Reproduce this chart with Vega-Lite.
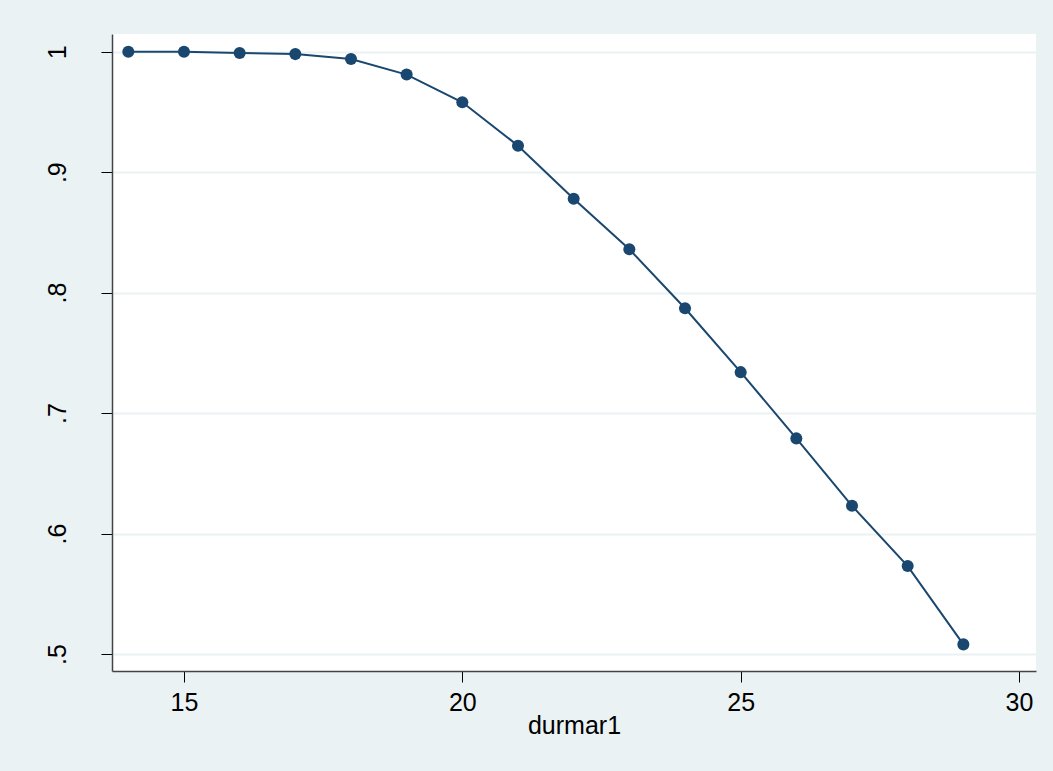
{
  "$schema": "https://vega.github.io/schema/vega-lite/v6.json",
  "width": 924,
  "height": 637,
  "autosize": {"type": "none"},
  "padding": {"left": 112, "top": 34, "right": 17, "bottom": 100},
  "background": "#EAF2F3",
  "config": {
    "view": {"fill": "white", "stroke": null},
    "font": "Liberation Sans"
  },
  "data": {
    "values": [
      {"durmar1": 14, "s": 1.0},
      {"durmar1": 15, "s": 1.0},
      {"durmar1": 16, "s": 0.999},
      {"durmar1": 17, "s": 0.998},
      {"durmar1": 18, "s": 0.994},
      {"durmar1": 19, "s": 0.981},
      {"durmar1": 20, "s": 0.958},
      {"durmar1": 21, "s": 0.922},
      {"durmar1": 22, "s": 0.878},
      {"durmar1": 23, "s": 0.836},
      {"durmar1": 24, "s": 0.787},
      {"durmar1": 25, "s": 0.734},
      {"durmar1": 26, "s": 0.679},
      {"durmar1": 27, "s": 0.623},
      {"durmar1": 28, "s": 0.573},
      {"durmar1": 29, "s": 0.508}
    ]
  },
  "encoding": {
    "x": {
      "field": "durmar1",
      "type": "quantitative",
      "scale": {"domain": [13.707, 30.305], "nice": false, "zero": false},
      "axis": {
        "values": [15, 20, 25, 30],
        "grid": false,
        "title": "durmar1",
        "titleFont": "Liberation Sans",
        "titleFontSize": 25,
        "titleFontWeight": "normal",
        "titleColor": "black",
        "titlePadding": -2,
        "labelFont": "Liberation Sans",
        "labelFontSize": 25,
        "labelColor": "black",
        "labelPadding": 8,
        "labelFlush": false,
        "tickSize": 11,
        "tickColor": "black",
        "tickWidth": 1,
        "domainColor": "#444444",
        "domainWidth": 1.5
      }
    },
    "y": {
      "field": "s",
      "type": "quantitative",
      "scale": {"domain": [0.4859, 1.0147], "nice": false, "zero": false},
      "axis": {
        "values": [0.5, 0.6, 0.7, 0.8, 0.9, 1],
        "labelExpr": "datum.value == 1 ? '1' : replace(format(datum.value, '.1f'), '0.', '.')",
        "grid": true,
        "gridColor": "#EAF2F3",
        "gridWidth": 2,
        "title": null,
        "labelFont": "Liberation Sans",
        "labelFontSize": 25,
        "labelColor": "black",
        "labelAngle": 270,
        "labelAlign": "center",
        "labelBaseline": "alphabetic",
        "labelPadding": 36,
        "labelFlush": false,
        "tickSize": 11,
        "tickColor": "black",
        "tickWidth": 1,
        "domainColor": "#444444",
        "domainWidth": 1.5
      }
    }
  },
  "layer": [
    {"mark": {"type": "line", "color": "#1A476F", "strokeWidth": 2}},
    {"mark": {"type": "point", "filled": true, "color": "#1A476F", "opacity": 1, "size": 145}}
  ]
}
